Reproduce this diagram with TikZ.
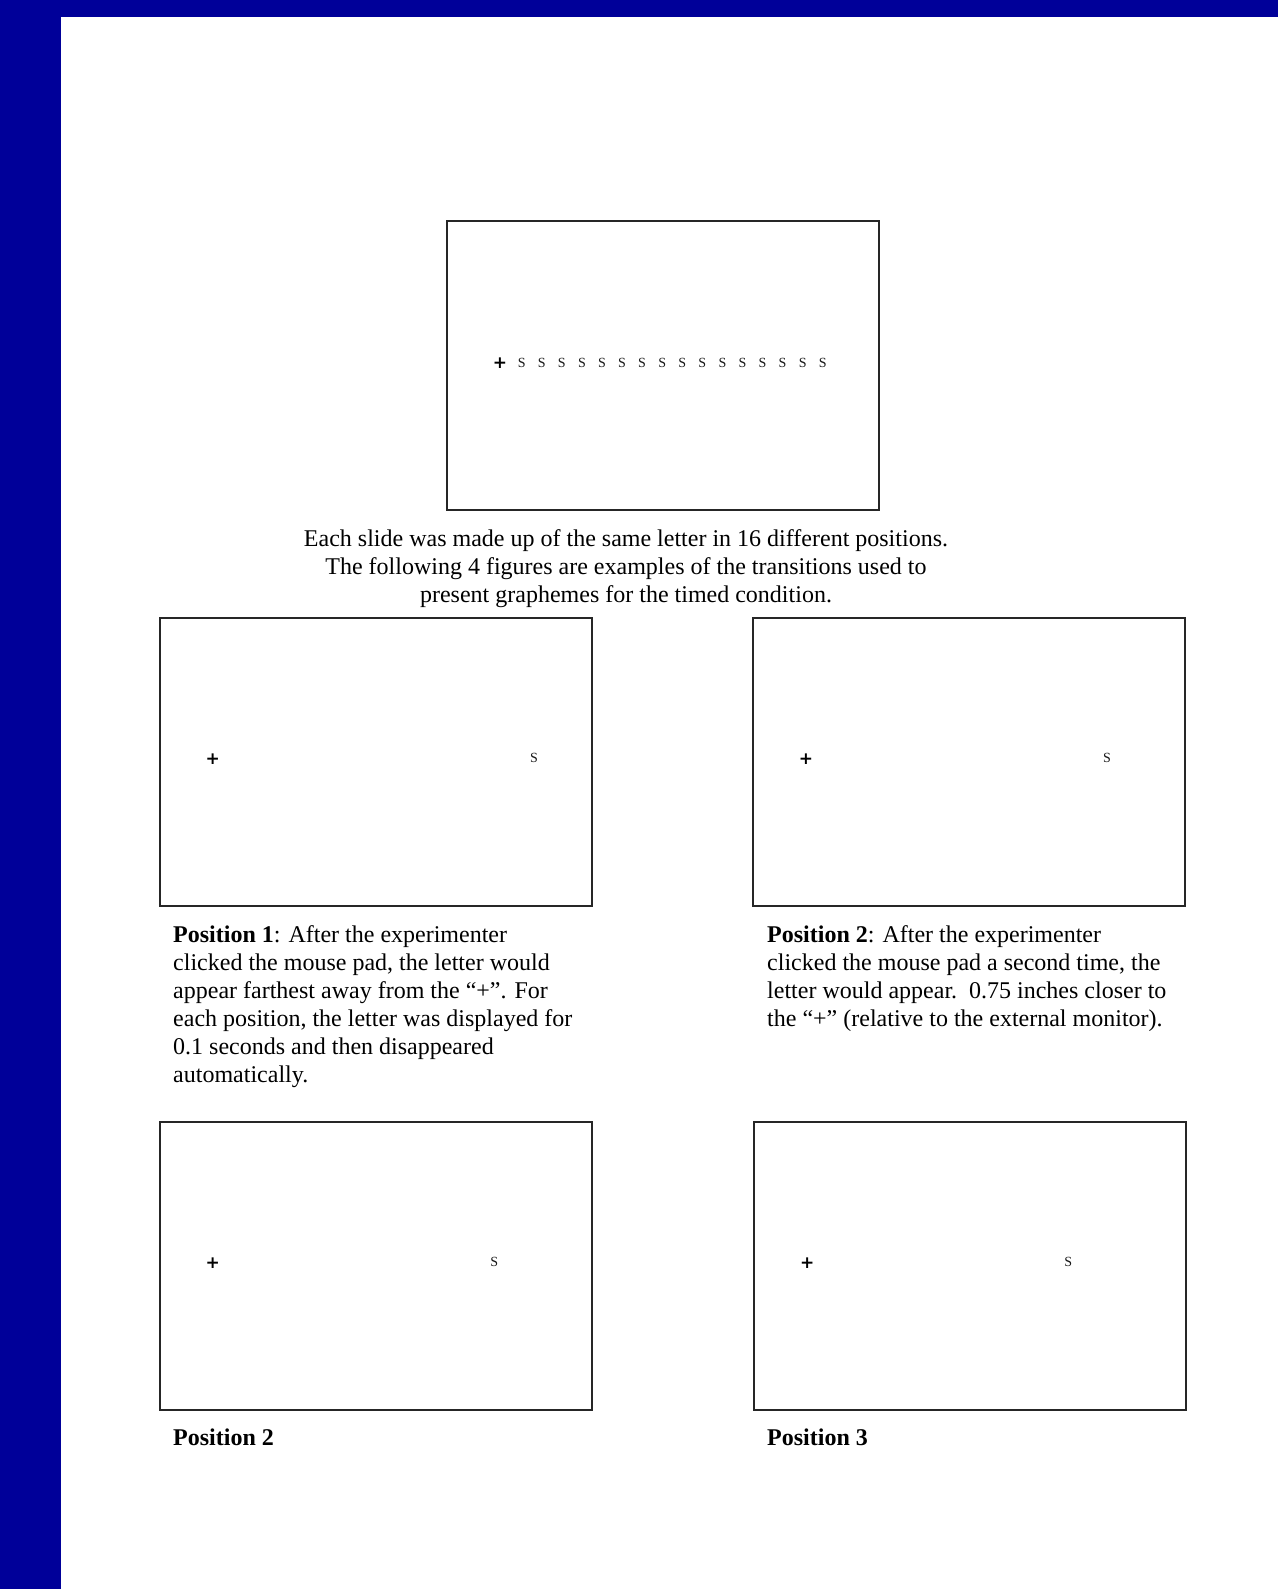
\documentclass[tikz,border=0pt]{standalone}
\usepackage{fontspec}
\setmainfont{Liberation Serif}
\newfontfamily\plusfont{DejaVu Sans}
\definecolor{bandblue}{HTML}{000099}
\definecolor{framegray}{HTML}{262626}
\begin{document}
\begin{tikzpicture}[x=1pt,y=-1pt,
  slide/.style={draw=framegray, line width=2pt, minimum width=432pt, minimum height=288pt, inner sep=0pt},
  fixmark/.style={font=\plusfont\fontsize{17}{17}\selectfont\bfseries, inner sep=0pt},
  letter/.style={font=\fontsize{14}{14}\selectfont, inner sep=0pt, text=black!90},
  body/.style={font=\fontsize{24}{28}\selectfont, inner sep=0pt, align=left, anchor=north west},
  caption/.style={font=\fontsize{24}{28}\selectfont, inner sep=0pt, align=center, anchor=north}
]
\useasboundingbox (0,0) rectangle (1278,1589);
\fill[white] (0,0) rectangle (1278,1589);
\fill[bandblue] (0,0) rectangle (1278,17);
\fill[bandblue] (0,0) rectangle (61,1589);

% top slide
\node[slide] (top) at (663,365.5) {};
\node[fixmark] (tplus) at (500,363) {+};
\foreach \i in {0,...,15}{
  \node[letter] (ts\i) at ({521.7+20.07*\i},363) {S};
}

\node[caption] (cap) at (626,529) {Each slide was made up of the same letter in 16 different positions.\\
The following 4 figures are examples of the transitions used to\\
present graphemes for the timed condition.};

% middle row
\node[slide] (p1) at (375.5,761.5) {};
\node[fixmark] (p1plus) at (212.7,759) {+};
\node[letter] (p1s) at (534,758) {S};

\node[slide] (p2) at (969,762) {};
\node[fixmark] (p2plus) at (806,759) {+};
\node[letter] (p2s) at (1107,758) {S};

\node[body] (t1) at (173,925) {\textbf{Position 1}: After the experimenter\\
clicked the mouse pad, the letter would\\
appear farthest away from the “+”. For\\
each position, the letter was displayed for\\
0.1 seconds and then disappeared\\
automatically.};

\node[body] (t2) at (767,925) {\textbf{Position 2}: After the experimenter\\
clicked the mouse pad a second time, the\\
letter would appear.\ \ 0.75 inches closer to\\
the “+” (relative to the external monitor).};

% bottom row
\node[slide] (p3) at (375.5,1266) {};
\node[fixmark] (p3plus) at (212.7,1263) {+};
\node[letter] (p3s) at (494.3,1262) {S};

\node[slide] (p4) at (969.5,1266) {};
\node[fixmark] (p4plus) at (807.3,1263) {+};
\node[letter] (p4s) at (1068.3,1262) {S};

\node[body] (l3) at (173,1429) {\textbf{Position 2}};
\node[body] (l4) at (767,1429) {\textbf{Position 3}};
\end{tikzpicture}
\end{document}
